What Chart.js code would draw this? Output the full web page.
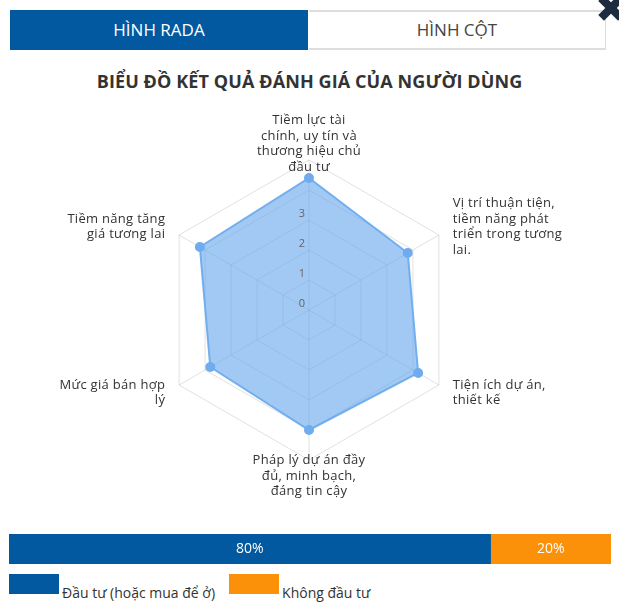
<!DOCTYPE html>
<html>
<head>
<meta charset="utf-8">
<script src="https://cdn.jsdelivr.net/npm/chart.js"></script>
<style>
  body { margin: 0; background: #fff; font-family: "Open Sans", sans-serif; }
  #wrap { position: relative; width: 619px; height: 604px; overflow: hidden; }
  .tab { position: absolute; top: 10px; height: 40px; line-height: 40px; text-align: center; font-size: 17px; box-sizing: border-box; }
  #tab1 { left: 10px; width: 298px; background: #02599f; color: #fff; }
  #tab2 { left: 309px; width: 297px; background: #fff; color: #444; border-top: 2px solid #ddd; border-right: 1px solid #ddd; border-bottom: 2px solid #ddd; line-height: 36px; }
  #close { position: absolute; left: 597px; top: -6px; width: 28px; height: 28px; }
  #close:before, #close:after { content: ""; position: absolute; left: 0; top: 10px; width: 28px; height: 8px; background: #1d2c3e; transform: rotate(45deg); }
  #close:after { transform: rotate(-45deg); }
  #title { position: absolute; top: 69px; left: 0; width: 619px; text-align: center; font-size: 18px; font-weight: 700; color: #333; letter-spacing: 0.1px; }
  #radar { position: absolute; left: 0; top: 100px; }
  #bar { position: absolute; left: 0; top: 534px; }
  #legend { position: absolute; left: 9px; top: 574px; display: flex; }
  .item { display: flex; align-items: flex-start; margin-right: 14px; font-size: 14px; color: #333; }
  .box { width: 50px; height: 20px; margin-right: 3px; }
  .item span { position: relative; top: 9px; line-height: 20px; }
</style>
</head>
<body>
<div id="wrap">
  <div class="tab" id="tab1">HÌNH RADA</div>
  <div class="tab" id="tab2">HÌNH CỘT</div>
  <div id="close"></div>
  <div id="title">BIỂU ĐỒ KẾT QUẢ ĐÁNH GIÁ CỦA NGƯỜI DÙNG</div>
  <canvas id="radar" width="619" height="420"></canvas>
  <canvas id="bar" width="619" height="30"></canvas>
  <div id="legend"></div>
</div>
<script>
// nhãn các trục của biểu đồ rada
const radarLabels = [
  ['Tiềm lực tài', 'chính, uy tín và', 'thương hiệu chủ', 'đầu tư'],
  ['Vị trí thuận tiện,', 'tiềm năng phát', 'triển trong tương', 'lai.'],
  ['Tiện ích dự án,', 'thiết kế'],
  ['Pháp lý dự án đầy', 'đủ, minh bạch,', 'đáng tin cậy'],
  ['Mức giá bán hợp', 'lý'],
  ['Tiềm năng tăng', 'giá tương lai']
];
const radarValues = [4.4, 3.8, 4.2, 4.0, 3.8, 4.2];
const tickLabels = [0, 1, 2, 3];

// thanh tỉ lệ đầu tư
const barLabels = ['Đầu tư (hoặc mua để ở)', 'Không đầu tư'];
const barValues = [80, 20];
const barColors = ['#02599f', '#fb9108'];

const FONT = '"Open Sans", sans-serif';

// vẽ nhãn trục và nhãn giá trị theo vị trí của thang đo
const radarText = {
  id: 'radarText',
  afterDraw(chart) {
    const scale = chart.scales.r;
    const ctx = chart.ctx;
    ctx.save();
    ctx.textBaseline = 'middle';
    ctx.font = '13px ' + FONT;
    ctx.letterSpacing = '0.3px';
    ctx.fillStyle = '#333';
    const lh = 15.5;
    radarLabels.forEach((lines, i) => {
      const p = scale.getPointPosition(i, scale.drawingArea + 16);
      const dx = p.x - scale.xCenter;
      ctx.textAlign = Math.abs(dx) < 2 ? 'center' : (dx > 0 ? 'left' : 'right');
      let y = p.y - (lines.length - 1) * lh / 2;
      lines.forEach(line => { ctx.fillText(line, p.x, y); y += lh; });
    });
    ctx.letterSpacing = '0px';
    ctx.font = '11px ' + FONT;
    ctx.fillStyle = '#666';
    ctx.textAlign = 'center';
    tickLabels.forEach(v => {
      const d = scale.getDistanceFromCenterForValue(v);
      ctx.fillText(String(v), scale.xCenter - 7, scale.yCenter - d - 6);
    });
    ctx.restore();
  }
};

new Chart(document.getElementById('radar'), {
  type: 'radar',
  data: {
    labels: radarLabels,
    datasets: [{
      data: radarValues,
      backgroundColor: 'rgba(100,165,235,0.6)',
      borderColor: 'rgba(110,172,238,0.95)',
      borderWidth: 2,
      pointBackgroundColor: 'rgba(110,172,238,1)',
      pointBorderColor: 'rgba(110,172,238,1)',
      pointRadius: 4
    }]
  },
  options: {
    responsive: false,
    animation: false,
    layout: { padding: { left: 159, right: 160, top: 60, bottom: 60 } },
    plugins: { legend: { display: false }, tooltip: { enabled: false } },
    scales: {
      r: {
        min: 0,
        max: 5,
        ticks: { display: false, stepSize: 1 },
        pointLabels: { display: false },
        grid: { color: 'rgba(0,0,0,0.12)' },
        angleLines: { color: 'rgba(0,0,0,0.12)' }
      }
    }
  },
  plugins: [radarText]
});

// chữ phần trăm nằm giữa mỗi đoạn
const barText = {
  id: 'barText',
  afterDatasetsDraw(chart) {
    const ctx = chart.ctx;
    ctx.save();
    ctx.font = '500 14px ' + FONT;
    ctx.fillStyle = '#fff';
    ctx.textAlign = 'center';
    ctx.textBaseline = 'middle';
    chart.data.datasets.forEach((ds, i) => {
      const el = chart.getDatasetMeta(i).data[0];
      ctx.fillText(ds.data[0] + '%', (el.x + el.base) / 2, el.y);
    });
    ctx.restore();
  }
};

new Chart(document.getElementById('bar'), {
  type: 'bar',
  data: {
    labels: [''],
    datasets: barLabels.map((l, i) => ({
      label: l,
      data: [barValues[i]],
      backgroundColor: barColors[i],
      barPercentage: 1,
      categoryPercentage: 1
    }))
  },
  options: {
    indexAxis: 'y',
    responsive: false,
    animation: false,
    layout: { padding: { left: 9, right: 8 } },
    plugins: { legend: { display: false }, tooltip: { enabled: false } },
    scales: {
      x: { display: false, stacked: true, min: 0, max: 100 },
      y: { display: false, stacked: true }
    }
  },
  plugins: [barText]
});

// chú thích
const legend = document.getElementById('legend');
barLabels.forEach((l, i) => {
  const item = document.createElement('div');
  item.className = 'item';
  item.innerHTML = '<div class="box" style="background:' + barColors[i] + '"></div><span>' + l + '</span>';
  legend.appendChild(item);
});
</script>
</body>
</html>
